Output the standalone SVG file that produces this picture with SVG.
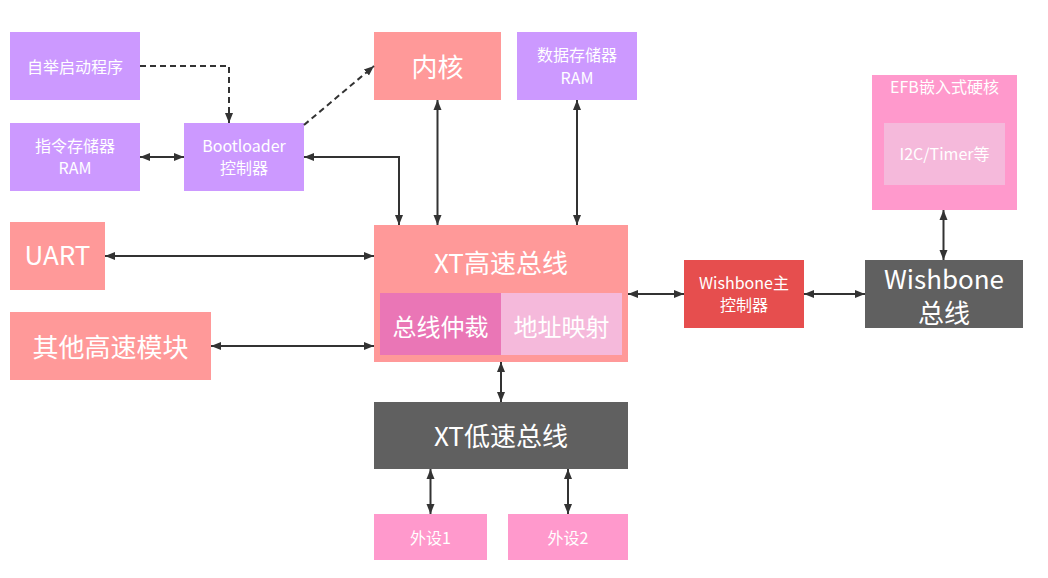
<svg xmlns="http://www.w3.org/2000/svg" width="1048" height="578" viewBox="0 0 1048 578">
<style>
.t{font-family:"Noto Sans CJK SC","Noto Sans",sans-serif;fill:#fff;text-anchor:middle;dominant-baseline:central}
.s{font-size:16px}
.m{font-size:24px}
.l{font-size:26px}
.c{fill:none;stroke:#333;stroke-width:2}
.d{stroke-dasharray:6 4}
</style>
<defs>
<marker id="a" viewBox="0 0 10 10" refX="10" refY="5" markerWidth="10" markerHeight="10" markerUnits="userSpaceOnUse" orient="auto-start-reverse">
<path d="M0,1 L10,5 L0,9 Z" fill="#333"/>
</marker>
</defs>
<rect width="1048" height="578" fill="#fff"/>
<g id="boot-prog"><rect x="10" y="32" width="130" height="68" fill="#CC99FF"/><text class="t s" x="75" y="66">自举启动程序</text></g>
<g id="inst-ram"><rect x="10" y="123" width="130" height="68" fill="#CC99FF"/><text class="t s" x="75" y="145">指令存储器</text><text class="t s" x="75" y="167">RAM</text></g>
<g id="bootloader"><rect x="184" y="123" width="120" height="68" fill="#CC99FF"/><text class="t s" x="244" y="145">Bootloader</text><text class="t s" x="244" y="167">控制器</text></g>
<g id="core"><rect x="374" y="32" width="127" height="68" fill="#FF9999"/><text class="t l" x="437.5" y="65">内核</text></g>
<g id="data-ram"><rect x="517" y="32" width="120" height="68" fill="#CC99FF"/><text class="t s" x="577" y="54">数据存储器</text><text class="t s" x="577" y="77">RAM</text></g>
<g id="uart"><rect x="10" y="222" width="95" height="68" fill="#FF9999"/><text class="t l" x="57.5" y="253">UART</text></g>
<g id="other"><rect x="10" y="312" width="201" height="68" fill="#FF9999"/><text class="t l" x="110.5" y="345">其他高速模块</text></g>
<g id="xt-high"><rect x="374" y="225" width="254" height="137" fill="#FF9999"/><text class="t l" x="501" y="261">XT高速总线</text>
<rect x="380" y="293" width="121" height="62" fill="#EA76B6"/><text class="t m" x="440.5" y="325">总线仲裁</text>
<rect x="501" y="293" width="121" height="62" fill="#F5B9DB"/><text class="t m" x="561.5" y="325">地址映射</text></g>
<g id="xt-low"><rect x="374" y="402" width="254" height="67" fill="#606060"/><text class="t l" x="501" y="434">XT低速总线</text></g>
<g id="periph1"><rect x="374" y="514" width="113" height="46" fill="#FF99CC"/><text class="t s" x="430.5" y="537">外设1</text></g>
<g id="periph2"><rect x="508" y="514" width="120" height="46" fill="#FF99CC"/><text class="t s" x="568" y="537">外设2</text></g>
<g id="wb-master"><rect x="684" y="260" width="120" height="68" fill="#E64E4E"/><text class="t s" x="744" y="282">Wishbone主</text><text class="t s" x="744" y="304">控制器</text></g>
<g id="wb-bus"><rect x="865" y="260" width="158" height="68" fill="#606060"/><text class="t l" x="944" y="277">Wishbone</text><text class="t l" x="944" y="311">总线</text></g>
<g id="efb"><rect x="872" y="75" width="145" height="135" fill="#FF99CC"/><text class="t s" x="944.5" y="86">EFB嵌入式硬核</text>
<rect x="884" y="123" width="121" height="62" fill="#F5B9DB"/><text class="t s" x="944.5" y="153">I2C/Timer等</text></g>
<g id="connectors">
<path class="c d" d="M140,66 H229 V123" marker-end="url(#a)"/>
<path class="c d" d="M304,125 L374,66" marker-end="url(#a)"/>
<path class="c" d="M140,157 H184" marker-start="url(#a)" marker-end="url(#a)"/>
<path class="c" d="M304,157 H399 V225" marker-start="url(#a)" marker-end="url(#a)"/>
<path class="c" d="M437.5,100 V225" marker-start="url(#a)" marker-end="url(#a)"/>
<path class="c" d="M577,100 V225" marker-start="url(#a)" marker-end="url(#a)"/>
<path class="c" d="M105,256 H374" marker-start="url(#a)" marker-end="url(#a)"/>
<path class="c" d="M211,346 H374" marker-start="url(#a)" marker-end="url(#a)"/>
<path class="c" d="M628,294 H684" marker-start="url(#a)" marker-end="url(#a)"/>
<path class="c" d="M804,294 H865" marker-start="url(#a)" marker-end="url(#a)"/>
<path class="c" d="M943.5,210 V260" marker-start="url(#a)" marker-end="url(#a)"/>
<path class="c" d="M501,362 V402" marker-start="url(#a)" marker-end="url(#a)"/>
<path class="c" d="M430.5,469 V514" marker-start="url(#a)" marker-end="url(#a)"/>
<path class="c" d="M568,469 V514" marker-start="url(#a)" marker-end="url(#a)"/>
</g>
</svg>
